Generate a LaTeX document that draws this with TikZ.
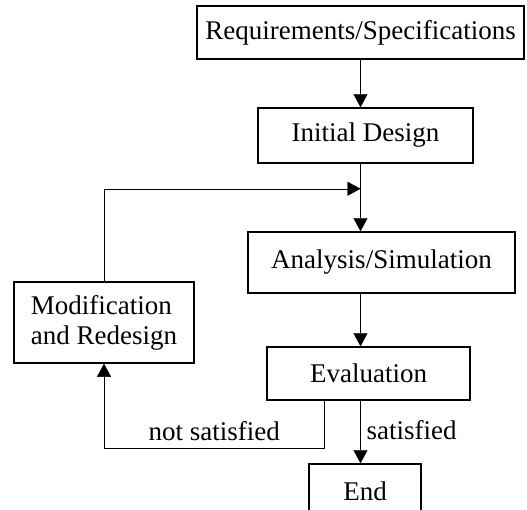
\documentclass[tikz,border=0pt]{standalone}
\usepackage{fontspec}
\setmainfont{Liberation Serif}
\usepackage{tikz}
\usetikzlibrary{positioning, arrows.meta}
\tikzset{
	>={Triangle[length=13pt,width=14pt]},
	line width=1.6pt,
	align=center,
	font=\fontsize{27}{30}\selectfont,
	every node/.style={inner sep=0pt},
	box/.style={draw, line width=1.5pt}
}

\begin{document}
\begin{tikzpicture}
	\useasboundingbox (0,0) rectangle (527pt,-509pt);
	\node[box, minimum width=327pt, minimum height=53pt] (req) at (360.5pt,-32.5pt) {Requirements/Specifications};
	\node[box, minimum width=215pt, minimum height=55pt, below of=req, node distance=103pt, xshift=5pt] (init) {Initial Design};
	\node[box, minimum width=267pt, minimum height=61pt, below of=init, node distance=127pt, xshift=16pt] (ana) {Analysis/Simulation};
	\node[box, minimum width=203pt, minimum height=53pt, below of=ana, node distance=111pt, xshift=-13pt] (eval) {Evaluation};
	\node[box, minimum width=112pt, minimum height=54pt, below of=eval, node distance=117.5pt, xshift=-3.5pt] (end) {End};
	\node[box, minimum width=180pt, minimum height=81pt, align=left, left of=ana, node distance=277.5pt, yshift=-60pt] (mod) {Modification\\and Redesign};
	\coordinate[below=25pt of init.south] (fb);
	\coordinate[below=84pt of mod.south] (nsat);
	\draw[->] (req.south) -- (init.north -| req.south);
	\draw[->] (init.south -| req.south) -- (ana.north -| req.south);
	\draw[->] (ana.south -| req.south) -- (eval.north -| req.south);
	\draw[->] (eval.south -| req.south) -- node[right=6pt, yshift=2pt]{satisfied} (end.north -| req.south);
	\draw[->] (mod.north) |- (fb -| req.south);
	\draw[->] ([xshift=-44pt]eval.south) |- node[above=7pt, pos=0.75]{not satisfied} (nsat) -- (mod.south);
\end{tikzpicture}
\end{document}
